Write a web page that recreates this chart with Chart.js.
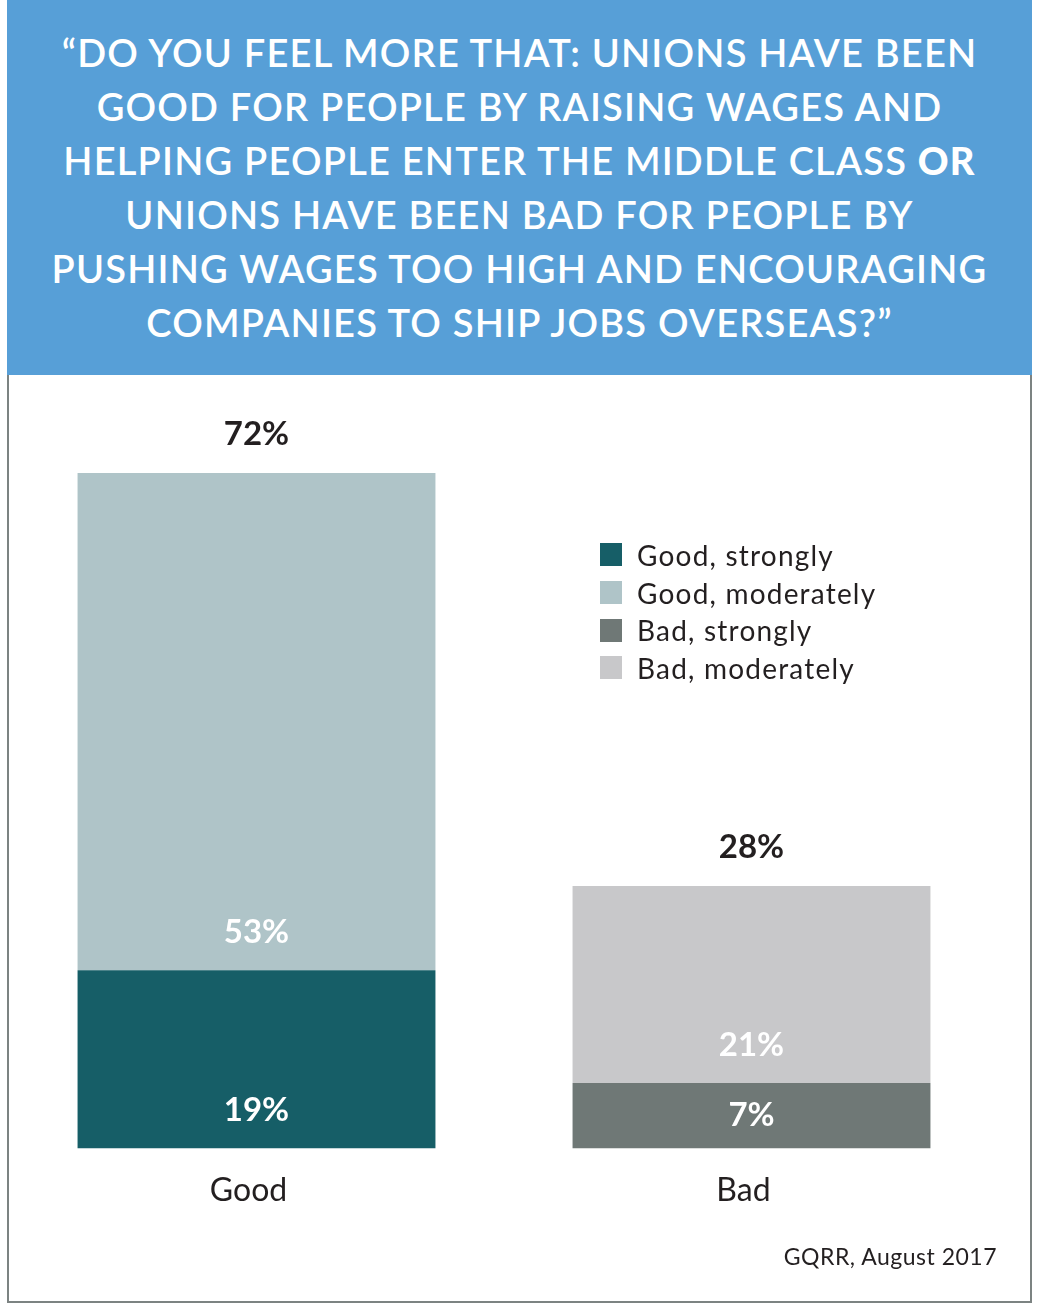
<!DOCTYPE html>
<html>
<head>
<meta charset="utf-8">
<script src="https://cdn.jsdelivr.net/npm/chart.js@4.4.1/dist/chart.umd.min.js"></script>
<style>
  body { margin: 0; background: #fff; font-family: Lato, "Open Sans", sans-serif; }
  #wrap { position: relative; width: 1043px; height: 1311px; }
  #header {
    position: absolute; left: 7px; top: 0; width: 1025px; height: 375px;
    background: #579fd7; color: #fff; text-align: center;
    font-size: 38px; font-weight: 600; line-height: 54px; letter-spacing: 1.2px;
    box-sizing: border-box; padding-top: 25px;
  }
  #header b { font-weight: 900; }
  #panel {
    position: absolute; left: 7px; top: 375px; width: 1025px; height: 928px;
    box-sizing: border-box; border: 2px solid #7c8382; border-top: none;
  }
  #chartBox { position: absolute; left: 9px; top: 375px; width: 1021px; height: 926px; }
  #legend { position: absolute; left: 600px; top: 536px; }
  .lg-row { display: flex; align-items: center; height: 37.7px; font-size: 28px; letter-spacing: 1.2px; color: #231f20; }
  .lg-box { width: 22px; height: 23px; margin-right: 15px; }
  #source { position: absolute; right: 46px; top: 1242px; font-size: 23px; letter-spacing: 0.5px; color: #231f20; }
</style>
</head>
<body>
<div id="wrap">
  <div id="header">“DO YOU FEEL MORE THAT: UNIONS HAVE BEEN<br>GOOD FOR PEOPLE BY RAISING WAGES AND<br>HELPING PEOPLE ENTER THE MIDDLE CLASS <b>OR</b><br>UNIONS HAVE BEEN BAD FOR PEOPLE BY<br>PUSHING WAGES TOO HIGH AND ENCOURAGING<br>COMPANIES TO SHIP JOBS OVERSEAS?”</div>
  <div id="panel"></div>
  <div id="chartBox"><canvas id="barChart"></canvas></div>
  <div id="legend"></div>
  <div id="source">GQRR, August 2017</div>
</div>
<script>
const categories = ["Good", "Bad"];
const goodStrongly = [19, null];
const goodModerately = [53, null];
const badStrongly = [null, 7];
const badModerately = [null, 21];
const totals = [72, 28];

const seriesNames = ["Good, strongly", "Good, moderately", "Bad, strongly", "Bad, moderately"];
const seriesColors = ["#165e67", "#afc4c8", "#6f7876", "#c8c8ca"];
const seriesValues = [goodStrongly, goodModerately, badStrongly, badModerately];

const FONT = "Lato, 'Open Sans', sans-serif";

// value labels inside the segments + totals on top
const barLabels = {
  id: "barLabels",
  afterDatasetsDraw(chart) {
    const ctx = chart.ctx;
    ctx.save();
    ctx.textAlign = "center";
    ctx.textBaseline = "middle";
    ctx.font = "bold 33px " + FONT;
    const tops = [];
    chart.data.datasets.forEach((ds, i) => {
      const meta = chart.getDatasetMeta(i);
      meta.data.forEach((bar, j) => {
        const v = ds.data[j];
        if (v == null) return;
        const h = bar.base - bar.y;
        const y = bar.base - Math.min(38, h / 2);
        ctx.fillStyle = "#ffffff";
        ctx.fillText(v + "%", bar.x, y);
        if (tops[j] == null || bar.y < tops[j].y) tops[j] = { x: bar.x, y: bar.y };
      });
    });
    ctx.fillStyle = "#231f20";
    totals.forEach((t, j) => {
      if (!tops[j]) return;
      ctx.fillText(t + "%", tops[j].x, tops[j].y - 39);
    });
    ctx.restore();
  },
};

const ctx = document.getElementById("barChart").getContext("2d");
const chart = new Chart(ctx, {
  type: "bar",
  data: {
    labels: categories,
    datasets: seriesNames.map((name, i) => ({
      label: name,
      data: seriesValues[i],
      backgroundColor: seriesColors[i],
      borderWidth: 0,
      barPercentage: 0.723,
      categoryPercentage: 1,
      skipNull: true,
    })),
  },
  options: {
    responsive: true,
    maintainAspectRatio: false,
    animation: false,
    layout: { padding: { top: 23, left: 0, right: 31, bottom: 68 } },
    plugins: {
      legend: { display: false },
      tooltip: { enabled: false },
    },
    scales: {
      x: {
        stacked: true,
        grid: { display: false, drawTicks: false },
        border: { display: false },
        ticks: {
          padding: 23,
          labelOffset: -8,
          color: "#231f20",
          font: { family: FONT, size: 32 },
        },
      },
      y: {
        stacked: true,
        display: false,
        min: 0,
        max: 80,
      },
    },
  },
  plugins: [barLabels],
});

// legend built from the datasets
const legendEl = document.getElementById("legend");
chart.data.datasets.forEach((ds) => {
  const row = document.createElement("div");
  row.className = "lg-row";
  const box = document.createElement("span");
  box.className = "lg-box";
  box.style.background = ds.backgroundColor;
  const txt = document.createElement("span");
  txt.textContent = ds.label;
  row.appendChild(box);
  row.appendChild(txt);
  legendEl.appendChild(row);
});
</script>
</body>
</html>
